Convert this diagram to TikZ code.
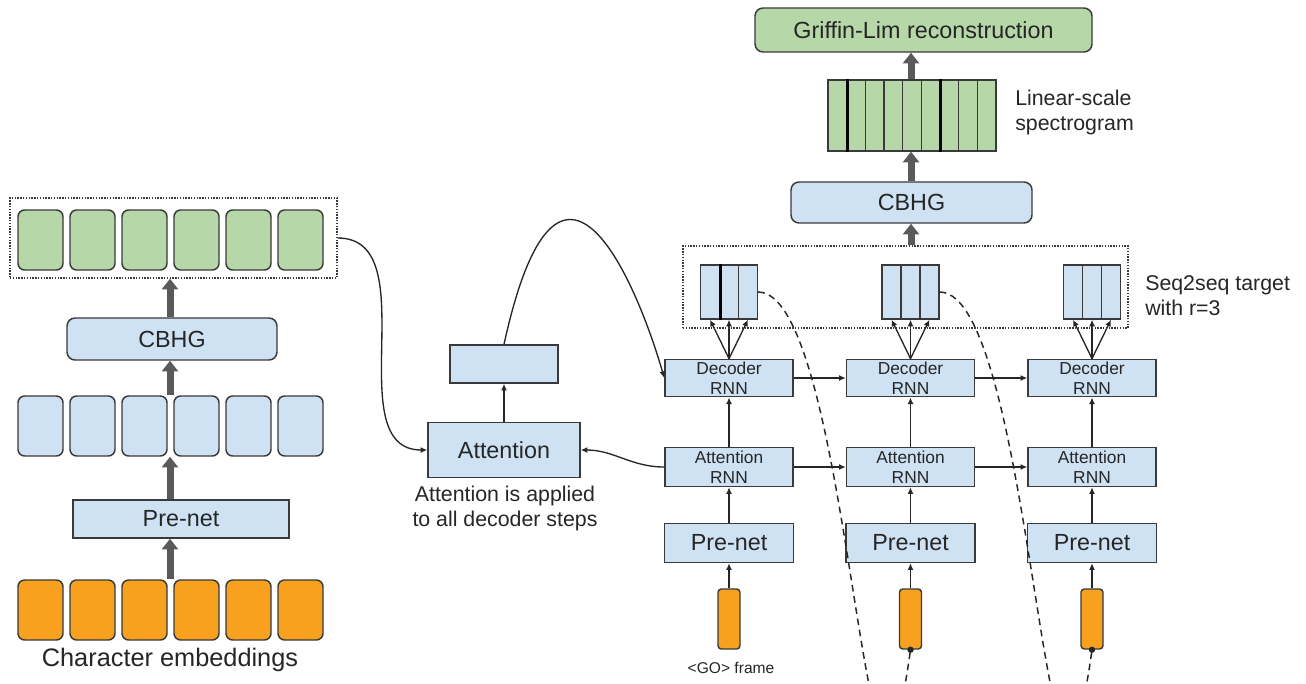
\documentclass[tikz,border=0pt]{standalone}
\usepackage{fontspec}
\setmainfont{Liberation Sans}
\usetikzlibrary{arrows,arrows.meta,positioning}
\definecolor{cellblue}{HTML}{CFE2F3}
\definecolor{cellgreen}{HTML}{B6D7A8}
\definecolor{cellorange}{HTML}{F7A11E}
\definecolor{edgegray}{HTML}{3A3A3A}
\definecolor{fatgray}{HTML}{5A5A5A}
\definecolor{inkgray}{HTML}{262626}

\begin{document}
\begin{tikzpicture}[x=0.75pt, y=-0.75pt,
		      every node/.style={text=inkgray, inner sep=0pt},
		      cell/.style={draw=edgegray, line width=1.1pt, rounded corners=5pt,
		        minimum width=33.75pt, minimum height=45pt},
		      roundbox/.style={draw=edgegray, line width=1.1pt, rounded corners=6pt,
		        fill=cellblue, font=\fontsize{17.5}{20}\selectfont},
		      flatbox/.style={draw=edgegray, line width=1.1pt, fill=cellblue,
		        font=\fontsize{17.5}{20}\selectfont},
		      rnnbox/.style={flatbox, minimum width=96pt, minimum height=28pt,
		        align=center, font=\fontsize{13}{15}\selectfont},
		      frmcell/.style={draw=edgegray, line width=1pt, fill=cellblue,
		        minimum width=14.25pt, minimum height=40.5pt},
		      speccell/.style={draw=edgegray, line width=1pt, fill=cellgreen,
		        minimum width=14pt, minimum height=53.25pt},
		      dotbox/.style={draw=edgegray, line width=1.1pt, densely dotted},
		      note/.style={font=\fontsize{16}{18.75}\selectfont},
		      fat/.style={draw=fatgray, line width=5.25pt, -{Triangle[width=12pt,length=8pt]}},
		      thin/.style={draw=inkgray, line width=1pt, -{Latex[length=5pt,width=4.5pt]}},
		      loopback/.style={draw=inkgray, line width=1.1pt, dash pattern=on 5pt off 3.5pt}
		    ]

  \fill[white] (0,0) rectangle (1306,683);
  \useasboundingbox (0,0) rectangle (1306,683);
  \coordinate (lc) at (170,0);
  \coordinate (rc) at (911,0);

  % encoder
  \foreach \i in {1,...,6} {
    \node[cell, fill=cellgreen] (g\i) at (40.5+52*\i-52,240) {};
    \node[cell, fill=cellblue] (b\i) at (40.5+52*\i-52,426) {};
    \node[cell, fill=cellorange] (o\i) at (40.5+52*\i-52,610) {};
  }
  \node[dotbox, minimum width=245.25pt, minimum height=60pt] (encbox) at (173.5,238) {};
  \node[roundbox, minimum width=157.5pt, minimum height=31.5pt] (cbhgL) at (172,339) {CBHG};
  \node[flatbox, minimum width=162pt, minimum height=28.5pt] (preL) at (181,519) {Pre-net};
  \node[font=\fontsize{19}{22}\selectfont] (chars) at (170,660) {Character embeddings};

  \draw[fat] (o3.north -| lc) -- (preL.south -| lc);
  \draw[fat] (preL.north -| lc) -- (b3.south -| lc);
  \draw[fat] (b3.north -| lc) -- (cbhgL.south -| lc);
  \draw[fat] (cbhgL.north -| lc) -- (encbox.south -| lc);

  % attention
  \node[flatbox, minimum width=114pt, minimum height=41.25pt] (attn) at (504,450) {Attention};
  \node[flatbox, minimum width=81pt, minimum height=28.5pt] (ctx) at (504,364) {};
  \node[note, align=center] (attnnote) at (505,508) {Attention is applied\\to all decoder steps};
  \draw[thin] (attn) -- (ctx);
  \draw[thin] (encbox.east) to[out=0, in=180] (attn.west);

  % decoder steps
  \foreach \c/\cx in {1/729,2/910.5,3/1092} {
    \node[rnnbox] (dec\c) at (\cx,378) {Decoder\\RNN};
    \node[rnnbox, minimum height=29.25pt] (arnn\c) at (\cx,467) {Attention\\RNN};
    \node[flatbox, minimum width=96.75pt, minimum height=29.25pt] (pre\c) at (\cx,543) {Pre-net};
    \node[draw=edgegray, line width=1.1pt, fill=cellorange, rounded corners=2.5pt,
      minimum width=16.5pt, minimum height=45pt] (in\c) at (\cx,619) {};
    \foreach \j/\dx in {1/-19,2/0,3/19}
      \node[frmcell] (f\c\j) at (\cx+\dx,292) {};
    \foreach \j in {1,2,3}
      \draw[thin] (dec\c.north) -- (f\c\j.south);
    \draw[thin] (in\c) -- (pre\c);
    \draw[thin] (pre\c) -- (arnn\c);
    \draw[thin] (arnn\c) -- (dec\c);
  }
  \draw[line width=2pt, draw=black] (f11.north east) -- (f11.south east);
  \node[font=\fontsize{11.7}{14}\selectfont] (go) at (731,668) {<GO> frame};

  \draw[thin] (dec1) -- (dec2);
  \draw[thin] (dec2) -- (dec3);
  \draw[thin] (arnn1) -- (arnn2);
  \draw[thin] (arnn2) -- (arnn3);
  \draw[thin] (arnn1.west) to[out=180, in=0] (attn.east);
  \draw[thin] (ctx.north) .. controls +(56,-255) and +(-25,-87) .. (dec1.west);

  \fill[inkgray] (in2.south) circle (2.4pt);
  \fill[inkgray] (in3.south) circle (2.4pt);
  \begin{scope}
    \clip (0,0) rectangle (1306,683);
    \draw[loopback] (f13.east) .. controls +(95,0) and +(-45,320) .. (in2.south);
    \draw[loopback] (f23.east) .. controls +(95,0) and +(-45,320) .. (in3.south);
  \end{scope}

  \node[dotbox, minimum width=333.75pt, minimum height=61.5pt] (seqbox) at (905.5,287) {};
  \node[note, anchor=west, align=left] (seqnote) at (1145,296) {Seq2seq target\\with r=3};

  % post-processing
  \node[roundbox, minimum width=180.75pt, minimum height=30.75pt] (cbhgR) at (911.5,202.5) {CBHG};
  \foreach \k in {1,...,9}
    \node[speccell] (s\k) at (828+9.33+18.67*\k-18.67,115.5) {};
  \draw[line width=2pt, draw=black] (s1.north east) -- (s1.south east);
  \draw[line width=2pt, draw=black] (s6.north east) -- (s6.south east);
  \node[note, anchor=west, align=left] (specnote) at (1015,112) {Linear-scale\\spectrogram};
  \node[roundbox, fill=cellgreen, minimum width=252.75pt, minimum height=33pt] (griffin) at (923.5,30) {Griffin-Lim reconstruction};

  \draw[fat] (seqbox.north -| rc) -- (cbhgR.south -| rc);
  \draw[fat] (cbhgR.north -| rc) -- (s5.south -| rc);
  \draw[fat] (s5.north -| rc) -- (griffin.south -| rc);
\end{tikzpicture}
\end{document}
